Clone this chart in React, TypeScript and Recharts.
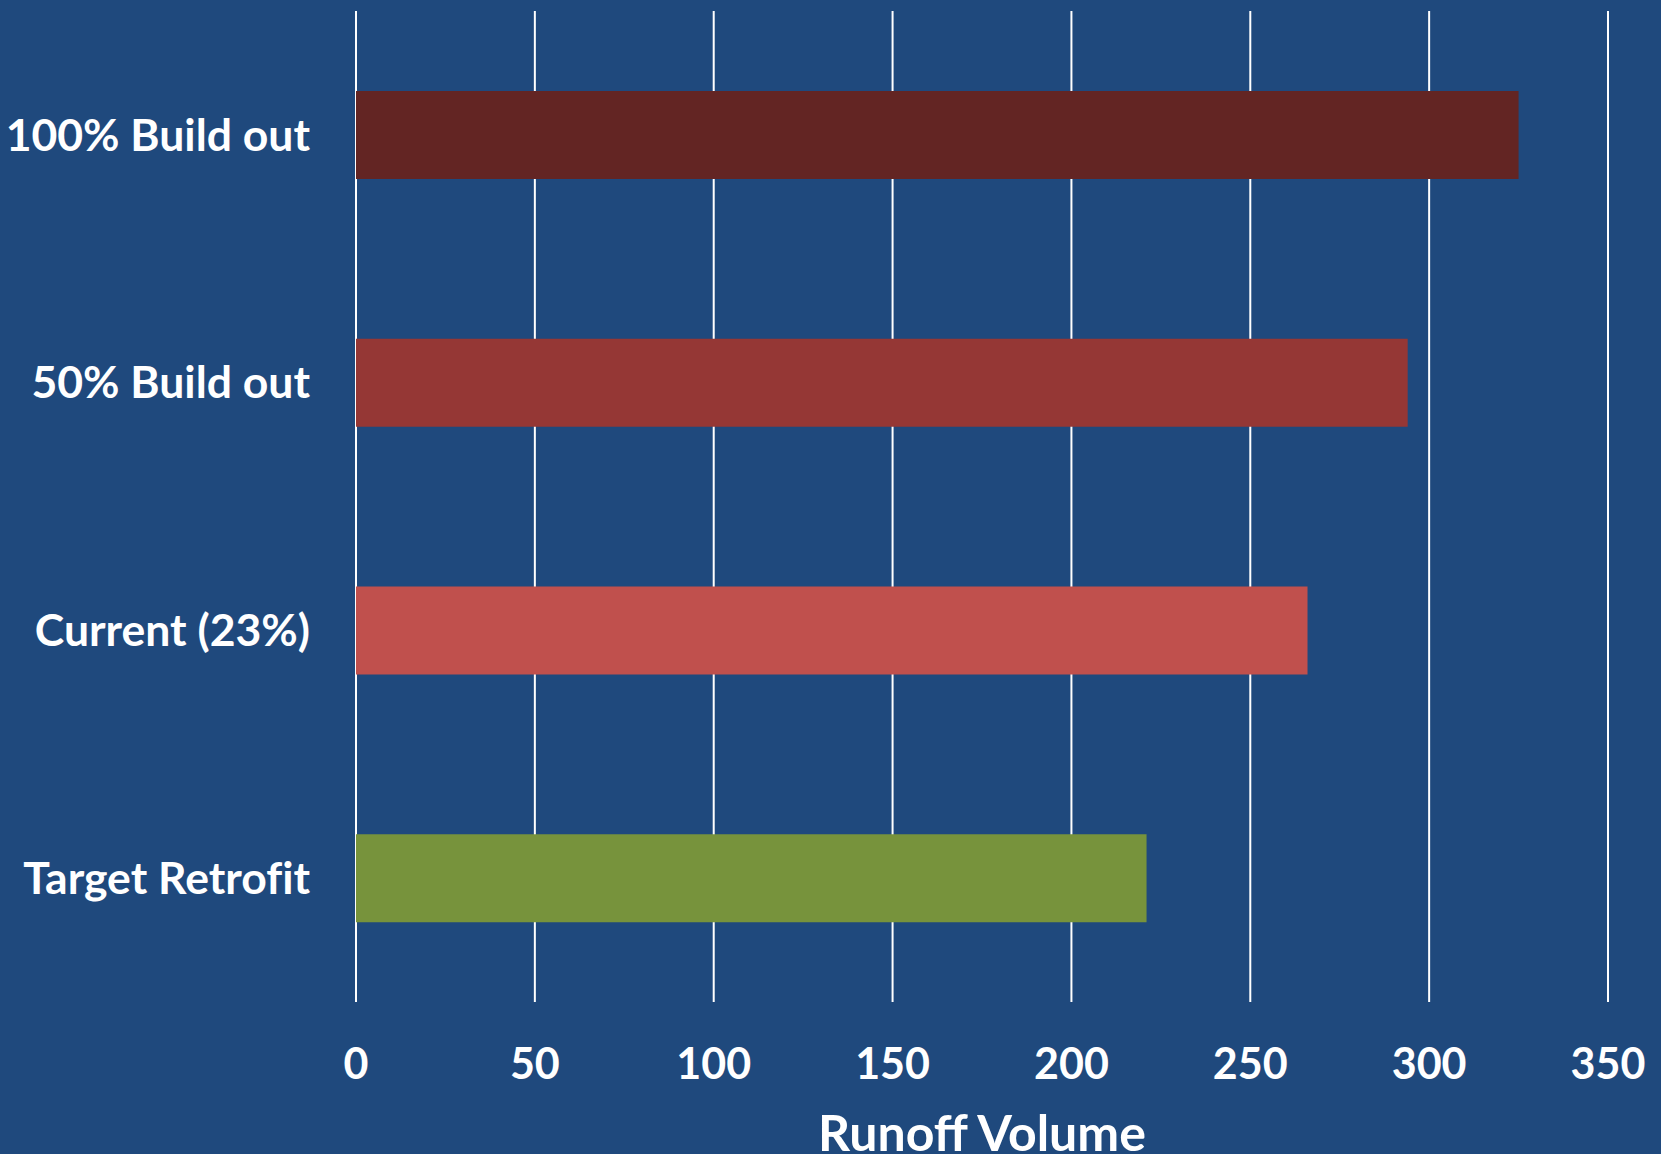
import React from "react";
import { BarChart, Bar, XAxis, YAxis, CartesianGrid, Cell } from "recharts";

const categories = ["100% Build out", "50% Build out", "Current (23%)", "Target Retrofit"];
const runoffVolume = [325, 294, 266, 221];
const barColors = ["#632523", "#953735", "#C0504D", "#77933C"];
const xTicks = [0, 50, 100, 150, 200, 250, 300, 350];

const data = categories.map((name, i) => ({ name, value: runoffVolume[i] }));

const FONT = "Lato, 'Open Sans', sans-serif";

export default function App() {
  return (
    <div
      style={{
        position: "absolute",
        left: 0,
        top: 0,
        width: 1661,
        height: 1154,
        background: "#1F497D",
        fontFamily: FONT,
      }}
    >
      <BarChart
        width={1661}
        height={1154}
        data={data}
        layout="vertical"
        margin={{ top: 11, right: 53, bottom: 0, left: 0 }}
        barSize={88}
      >
        <CartesianGrid horizontal={false} stroke="#FFFFFF" strokeWidth={2} />
        <XAxis
          type="number"
          domain={[0, 350]}
          ticks={xTicks}
          height={152}
          axisLine={false}
          tickLine={false}
          tickMargin={40}
          tick={{ fill: "#FFFFFF", fontSize: 43, fontWeight: 700, fontFamily: FONT }}
          label={{
            value: "Runoff Volume",
            position: "insideBottom",
            offset: 3,
            fill: "#FFFFFF",
            fontSize: 50,
            fontWeight: 700,
            fontFamily: FONT,
          }}
        />
        <YAxis
          type="category"
          dataKey="name"
          width={356}
          axisLine={false}
          tickLine={false}
          tickMargin={40}
          tick={{
            fill: "#FFFFFF",
            fontSize: 44.5,
            fontWeight: 700,
            fontFamily: FONT,
            style: { fontVariantLigatures: "none" },
          }}
        />
        <Bar dataKey="value" isAnimationActive={false}>
          {data.map((d, i) => (
            <Cell key={d.name} fill={barColors[i]} />
          ))}
        </Bar>
      </BarChart>
    </div>
  );
}
